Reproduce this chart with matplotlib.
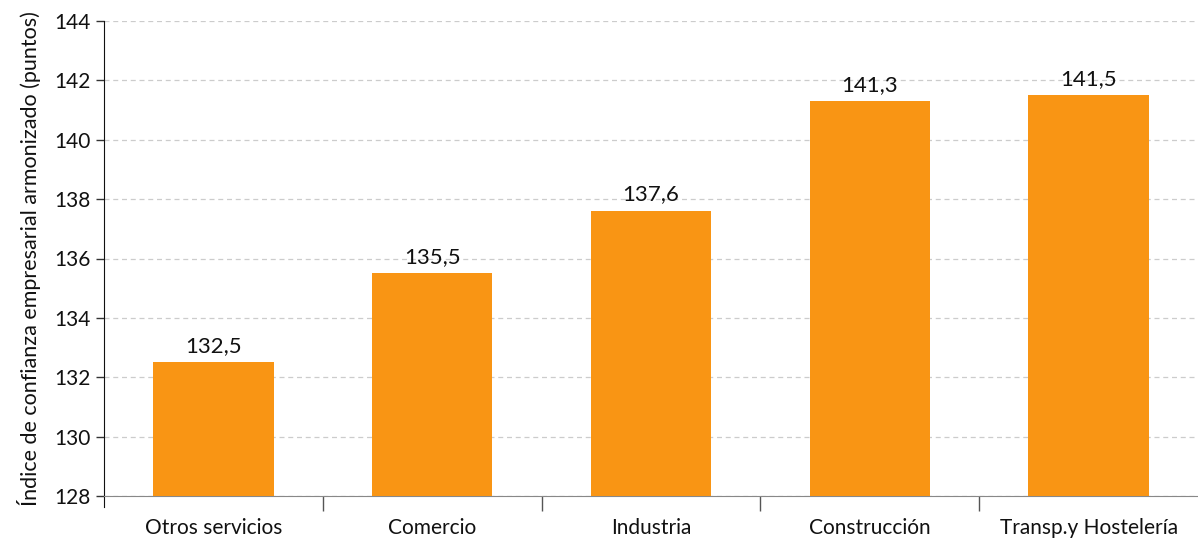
import matplotlib.pyplot as plt
from matplotlib.ticker import FixedLocator, NullFormatter

CATEGORIES = ["Otros servicios", "Comercio", "Industria", "Construcción", "Transp.y Hostelería"]
VALUES = [132.5, 135.5, 137.6, 141.3, 141.5]
Y_TICKS = [128, 130, 132, 134, 136, 138, 140, 142, 144]

BAR_COLOR = "#F99514"

plt.rcParams['font.family'] = ['Lato', 'DejaVu Sans']

fig = plt.figure(figsize=(11.98, 5.41), dpi=100)
ax = fig.add_axes([104 / 1198, 45 / 541, 1 - 104 / 1198, 475 / 541])

x = list(range(len(CATEGORIES)))
ax.bar(x, VALUES, width=0.55, color=BAR_COLOR, zorder=3)

for xi, v in zip(x, VALUES):
    ax.text(xi, v + 0.22, f"{v:.1f}".replace(".", ","), ha="center", va="bottom",
            fontsize=16, color="#111111", zorder=4)

ax.set_xlim(-0.5, len(CATEGORIES) - 0.5)
ax.set_ylim(128, 144)
ax.set_yticks(Y_TICKS)
ax.set_yticklabels([str(t) for t in Y_TICKS], fontsize=15, color="#111111")
ax.yaxis.grid(True, linestyle=(0, (4, 3)), color="#CCCCCC", linewidth=0.9, zorder=0)

# category labels in the middle, tick marks on the boundaries
ax.set_xticks(x)
ax.set_xticklabels(CATEGORIES, fontsize=15, color="#111111")
ax.tick_params(axis="x", length=0, pad=16)
ax.xaxis.set_minor_locator(FixedLocator([i + 0.5 for i in range(len(CATEGORIES) - 1)]))
ax.xaxis.set_minor_formatter(NullFormatter())
ax.tick_params(axis="x", which="minor", length=11, color="#555555", width=1)
ax.tick_params(axis="y", length=6, color="#333333", width=1)

ax.spines["top"].set_visible(False)
ax.spines["right"].set_visible(False)
ax.spines["bottom"].set_color("#888888")
ax.spines["left"].set_color("#111111")
ax.spines["left"].set_bounds(128 - 16 * 11 / 475, 144)

ax.set_ylabel("Índice de confianza empresarial armonizado (puntos)", fontsize=15.5,
              labelpad=10, color="#111111")

fig.savefig("out.png", dpi=100)
